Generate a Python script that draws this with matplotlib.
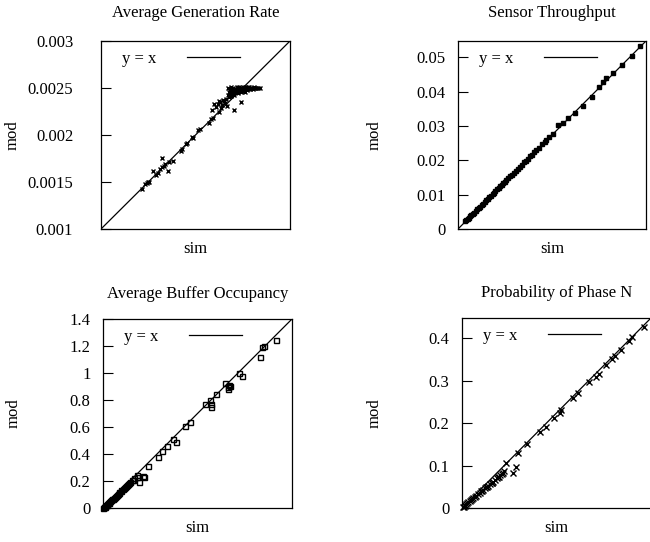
import numpy as np
import matplotlib
matplotlib.use("Agg")
import matplotlib.pyplot as plt

plt.rcParams['font.family'] = ['Liberation Serif', 'DejaVu Serif']
plt.rcParams['font.size'] = 12

# Average Generation Rate (values x 1e-3)
gen_sim = [1.437, 1.470, 1.490, 1.500, 1.505, 1.550, 1.580, 1.600, 1.620, 1.645,
           1.650, 1.665, 1.680, 1.710, 1.720, 1.760, 1.850, 1.860, 1.900, 1.910,
           1.960, 1.975, 2.030, 2.050, 2.146, 2.160, 2.188, 2.250, 2.177, 2.407,
           2.480, 2.200, 2.220, 2.240, 2.260, 2.280, 2.300, 2.310, 2.320, 2.330,
           2.250, 2.270, 2.290,
           2.34, 2.35, 2.36, 2.37, 2.38, 2.39, 2.40, 2.41, 2.42, 2.43,
           2.44, 2.45, 2.46, 2.47, 2.48, 2.49, 2.50, 2.51, 2.52, 2.53,
           2.54, 2.55, 2.56, 2.57, 2.58, 2.59, 2.60, 2.61, 2.62, 2.63,
           2.64, 2.66, 2.68, 2.36, 2.40, 2.44, 2.48, 2.52, 2.35, 2.38,
           2.345, 2.375, 2.405, 2.435, 2.465, 2.495, 2.525, 2.555, 2.585, 2.615]
gen_mod = [1.430, 1.475, 1.488, 1.505, 1.498, 1.620, 1.570, 1.600, 1.640, 1.759,
           1.660, 1.675, 1.690, 1.620, 1.710, 1.720, 1.830, 1.850, 1.905, 1.920,
           1.980, 1.970, 2.050, 2.060, 2.125, 2.170, 2.178, 2.240, 2.266, 2.262,
           2.350, 2.330, 2.300, 2.330, 2.350, 2.320, 2.360, 2.340, 2.380, 2.310,
           2.360, 2.290, 2.370,
           2.43, 2.46, 2.49, 2.41, 2.45, 2.48, 2.50, 2.43, 2.47, 2.49,
           2.51, 2.45, 2.48, 2.50, 2.46, 2.49, 2.51, 2.47, 2.49, 2.50,
           2.48, 2.50, 2.49, 2.51, 2.49, 2.50, 2.50, 2.49, 2.50, 2.50,
           2.50, 2.50, 2.50, 2.44, 2.44, 2.46, 2.48, 2.46, 2.40, 2.42,
           2.50, 2.51, 2.46, 2.48, 2.51, 2.47, 2.51, 2.51, 2.50, 2.51]

# Sensor Throughput (values x 1e-2)
thr_sim = [0.21, 0.24, 0.28, 0.31, 0.36, 0.39, 0.44, 0.47, 0.52, 0.56,
           0.61, 0.64, 0.69, 0.73, 0.78, 0.82, 0.86, 0.91, 0.95, 1.01,
           1.04, 1.09, 1.14, 1.18, 1.23, 1.27, 1.32, 1.37, 1.41, 1.46,
           1.52, 1.57, 1.63, 1.68, 1.74, 1.80, 1.86, 1.93, 1.98, 2.04,
           2.10, 2.15, 2.22, 2.28, 2.36, 2.45, 2.52, 2.56, 2.66, 2.77,
           2.92, 3.06, 3.19, 3.40, 3.63, 3.89, 4.11, 4.23, 4.30, 4.52,
           4.76, 5.05, 5.30]
thr_mod = [0.22, 0.25, 0.29, 0.32, 0.37, 0.40, 0.45, 0.48, 0.53, 0.57,
           0.62, 0.65, 0.70, 0.74, 0.79, 0.83, 0.87, 0.92, 0.96, 1.02,
           1.05, 1.10, 1.15, 1.19, 1.24, 1.28, 1.33, 1.38, 1.42, 1.47,
           1.53, 1.58, 1.64, 1.69, 1.75, 1.81, 1.87, 1.94, 1.99, 2.05,
           2.11, 2.16, 2.23, 2.29, 2.37, 2.46, 2.53, 2.59, 2.68, 2.76,
           3.04, 3.09, 3.22, 3.38, 3.58, 3.85, 4.14, 4.29, 4.38, 4.53,
           4.77, 5.04, 5.33]

# Average Buffer Occupancy
buf_sim = [1.281, 1.180, 1.190, 1.162, 1.009, 1.026, 0.906, 0.925, 0.935, 0.928,
           0.940, 0.836, 0.790, 0.797, 0.800, 0.755, 0.644, 0.607, 0.540, 0.520,
           0.471, 0.439, 0.404, 0.335, 0.298, 0.305, 0.269, 0.249, 0.252,
           0.230, 0.220, 0.212, 0.200, 0.192, 0.183, 0.176, 0.168, 0.160,
           0.152, 0.145, 0.137, 0.130, 0.122, 0.115, 0.108, 0.100, 0.093,
           0.086, 0.080, 0.073, 0.066, 0.060, 0.054, 0.048, 0.042, 0.036,
           0.031, 0.026, 0.021, 0.016, 0.012, 0.008, 0.005, 0.003]
buf_mod = [1.244, 1.190, 1.200, 1.115, 1.001, 0.977, 0.923, 0.900, 0.910, 0.878,
           0.905, 0.841, 0.800, 0.770, 0.750, 0.770, 0.634, 0.607, 0.490, 0.510,
           0.461, 0.420, 0.375, 0.311, 0.237, 0.228, 0.190, 0.232, 0.245,
           0.222, 0.211, 0.204, 0.192, 0.186, 0.176, 0.170, 0.161, 0.154,
           0.146, 0.140, 0.131, 0.125, 0.117, 0.110, 0.103, 0.096, 0.089,
           0.082, 0.076, 0.069, 0.063, 0.057, 0.051, 0.045, 0.040, 0.034,
           0.029, 0.024, 0.020, 0.015, 0.011, 0.007, 0.004, 0.002]

# Probability of Phase N
ph_sim = [0.4315, 0.402, 0.395, 0.3765, 0.363, 0.356, 0.341, 0.325, 0.318, 0.302,
          0.274, 0.262, 0.235, 0.232, 0.219, 0.200, 0.184, 0.154, 0.133, 0.105,
          0.129, 0.120, 0.097, 0.099, 0.094, 0.090, 0.086, 0.082, 0.078,
          0.074, 0.070, 0.066, 0.062, 0.058, 0.054, 0.050, 0.046, 0.042,
          0.038, 0.034, 0.030, 0.027, 0.024, 0.021, 0.018, 0.015, 0.012,
          0.010, 0.008, 0.006, 0.004, 0.003, 0.088, 0.072, 0.060, 0.048]
ph_mod = [0.426, 0.4025, 0.394, 0.3726, 0.358, 0.352, 0.337, 0.315, 0.310, 0.298,
          0.270, 0.259, 0.231, 0.225, 0.2115, 0.192, 0.180, 0.151, 0.129, 0.107,
          0.096, 0.083, 0.082, 0.088, 0.080, 0.077, 0.074, 0.070, 0.066,
          0.062, 0.059, 0.056, 0.052, 0.049, 0.046, 0.042, 0.039, 0.036,
          0.033, 0.029, 0.026, 0.024, 0.021, 0.018, 0.016, 0.013, 0.011,
          0.009, 0.007, 0.005, 0.003, 0.002, 0.072, 0.058, 0.050, 0.040]

W, H = 650, 542


def panel(rect, title, sim, mod, lim, ticks, ticklabels, marker, ms, mfc,
          tpad, ylab_x, title_pad):
    l, r, t, b = rect
    ax = fig.add_axes([l / W, 1 - b / H, (r - l) / W, (b - t) / H])
    ax.plot(lim, lim, color='k', lw=0.9, label='y = x')
    ax.plot(sim, mod, ls='none', marker=marker, ms=ms, mfc=mfc, mec='k',
            mew=1.0, color='k', clip_on=False)
    ax.set_xlim(lim)
    ax.set_ylim(lim)
    ax.set_xticks([])
    ax.set_yticks(ticks)
    ax.set_yticklabels(ticklabels)
    ax.tick_params(axis='y', direction='in', length=7, width=0.8, pad=tpad)
    for s in ax.spines.values():
        s.set_linewidth(0.9)
    ax.set_title(title, fontsize=12, pad=title_pad)
    ax.set_xlabel('sim', labelpad=9)
    ax.set_ylabel('mod')
    ax.yaxis.set_label_coords((ylab_x - l) / (r - l), 0.5)
    ax.legend(loc='upper left', bbox_to_anchor=(0.06, 1.0), frameon=False,
              markerfirst=False, handlelength=3.2, handletextpad=1.8,
              borderaxespad=0.2)
    return ax


fig = plt.figure(figsize=(6.5, 5.42), dpi=100)

panel((101, 290, 41, 229), 'Average Generation Rate',
      np.array(gen_sim) * 1e-3, np.array(gen_mod) * 1e-3, (0.001, 0.003),
      [0.001, 0.0015, 0.002, 0.0025, 0.003],
      ['0.001', '0.0015', '0.002', '0.0025', '0.003'], 'x', 3.2, 'k',
      20, 21, 17)

panel((458, 646, 41, 229), 'Sensor Throughput',
      np.array(thr_sim) * 1e-2, np.array(thr_mod) * 1e-2, (0.0, 0.0547),
      [0, 0.01, 0.02, 0.03, 0.04, 0.05],
      ['0', '0.01', '0.02', '0.03', '0.04', '0.05'], 's', 3.0, 'k',
      9, 383, 17)

panel((103, 292, 319, 508), 'Average Buffer Occupancy',
      buf_sim, buf_mod, (0.0, 1.4),
      [0, 0.2, 0.4, 0.6, 0.8, 1.0, 1.2, 1.4],
      ['0', '0.2', '0.4', '0.6', '0.8', '1', '1.2', '1.4'], 's', 3.6, 'none',
      9, 22, 15)

panel((462, 651, 318, 508), 'Probability of Phase N',
      ph_sim, ph_mod, (0.0, 0.448),
      [0, 0.1, 0.2, 0.3, 0.4],
      ['0', '0.1', '0.2', '0.3', '0.4'], 'x', 4.0, 'k',
      9, 383, 15)

fig.savefig('out.png', dpi=100)
